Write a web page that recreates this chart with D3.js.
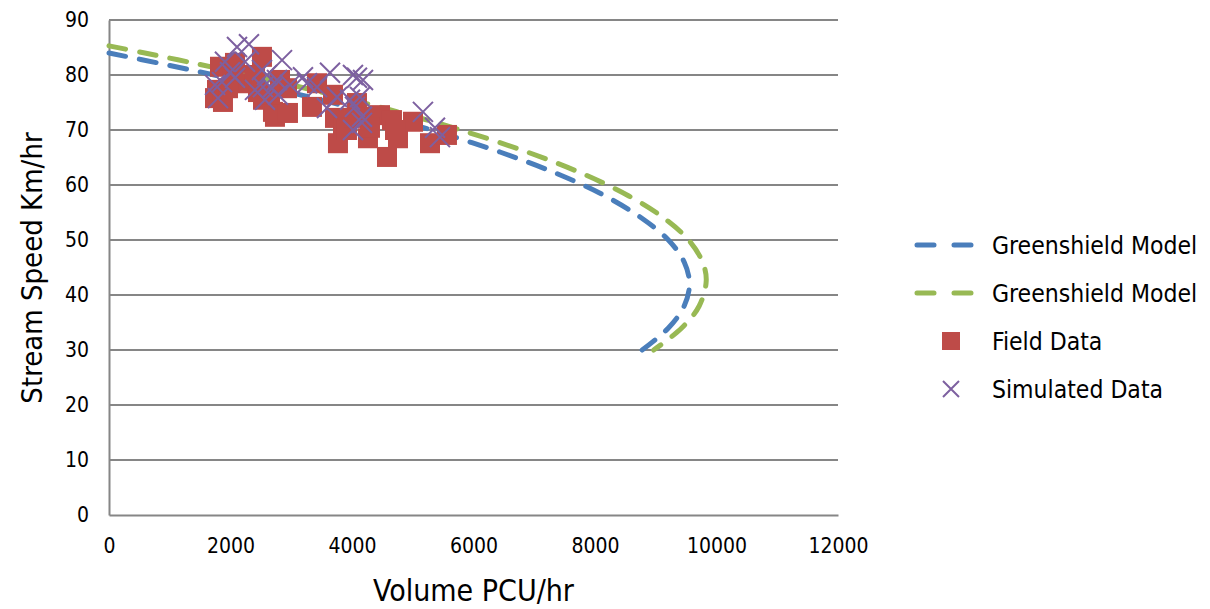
<!DOCTYPE html>
<html>
<head>
<meta charset="utf-8">
<script src="https://cdn.jsdelivr.net/npm/d3@7"></script>
<style>
  body { margin: 0; background: #fff; }
  svg text { font-family: "DejaVu Sans Condensed", "Liberation Sans", sans-serif; fill: #000; }
</style>
</head>
<body>
<div class="chart"></div>
<script>
// speed (km/hr) and volume (PCU/hr)
const blueSpeed  = [84, 82, 80, 78, 76, 74, 72, 70, 66, 62, 58, 54, 50, 46, 42, 38, 34, 30];
const blueVolume = [0, 888, 1733, 2535, 3294, 4008, 4680, 5308, 6435, 7389, 8168, 8766, 9208, 9468, 9555, 9468, 9208, 8776];
const greenSpeed  = [85.3, 84, 82, 80, 78, 76, 74, 72, 70, 66, 62, 58, 54, 50, 46, 42.6, 38, 34, 30];
const greenVolume = [0, 590, 1463, 2291, 3078, 3820, 4519, 5175, 5788, 6884, 7808, 8557, 9134, 9540, 9770, 9831, 9715, 9427, 8966];

// field data
const fieldVolume = [1745, 1778, 1827, 1876, 2041, 2074, 2271, 2453, 2518, 2535, 2699, 2732, 2815, 2930, 2946, 3341, 3424, 3687, 3720, 3769,
  3852, 3917, 4082, 4181, 4263, 4461, 4576, 4658, 4757, 5004, 5284, 5563, 4049, 2650, 1959, 2403, 4708, 4296];
const fieldSpeed = [75.8, 77.3, 81.5, 75.1, 79.1, 82.2, 78.5, 76.9, 83.3, 75.5, 73.3, 72.4, 79.1, 77.6, 73.1, 74.2, 78.5, 76.4, 72.2, 67.6,
  70.5, 70.0, 74.9, 72.4, 68.5, 72.7, 65.1, 71.8, 68.5, 71.5, 67.6, 69.1, 72.2, 76.4, 77.6, 80.0, 70.0, 70.4];

// simulated data
const simVolume = [2107, 2304, 1909, 1992, 2074, 1794, 1745, 2518, 2601, 2848, 2765, 2683, 2568, 2782, 2535, 3193, 3259, 3424, 3638, 3753,
  3588, 4016, 4181, 4082, 4049, 4131, 3967, 4016, 4164, 4164, 5168, 5366, 5448, 2239, 2403, 2979, 1860];
const simSpeed = [85.1, 85.6, 82.4, 80.5, 79.5, 75.8, 78.2, 80.9, 80.0, 82.7, 79.1, 77.6, 75.5, 76.4, 77.8, 79.6, 78.5, 77.8, 80.4, 76.0,
  74.0, 80.0, 79.1, 79.5, 74.2, 76.0, 75.5, 70.0, 71.3, 72.4, 73.3, 70.4, 68.7, 82.4, 77.3, 78.2, 78.7];

const xTicks = [0, 2000, 4000, 6000, 8000, 10000, 12000];
const yTicks = [0, 10, 20, 30, 40, 50, 60, 70, 80, 90];
const legendNames = ['Greenshield Model', 'Greenshield Model', 'Field Data', 'Simulated Data'];

const width = 1210, height = 609;
const blue = '#4a7ebb', green = '#98b954', red = '#be4b48', purple = '#7d60a0', grid = '#868686';

const svg = d3.select('.chart').append('svg')
    .attr('width', width).attr('height', height);

const x = d3.scaleLinear().domain([0, 12000]).range([109, 838]);
const y = d3.scaleLinear().domain([0, 90]).range([515, 20]);

// gridlines
svg.append('g')
    .selectAll('line')
    .data(yTicks.slice(1))
    .join('line')
        .attr('x1', x(0)).attr('x2', x(12000))
        .attr('y1', d => y(d)).attr('y2', d => y(d))
        .style('stroke', grid).style('stroke-width', 2);

// axes
const yAxis = svg.append('g')
    .attr('transform', 'translate(' + x(0) + ',0)')
    .call(d3.axisLeft(y).tickValues(yTicks).tickSize(0).tickPadding(20));
const xAxis = svg.append('g')
    .attr('transform', 'translate(0,' + y(0) + ')')
    .call(d3.axisBottom(x).tickValues(xTicks).tickSize(0).tickPadding(23).tickFormat(d3.format('d')));
[xAxis, yAxis].forEach(a => {
    a.select('.domain').style('stroke', grid).style('stroke-width', 2);
    a.selectAll('text').style('font-size', '21px');
});

// model curves
const modelLine = d3.line().x(d => x(d[0])).y(d => y(d[1])).curve(d3.curveCatmullRom);
const models = [
    { color: blue, pts: blueVolume.map((v, i) => [v, blueSpeed[i]]) },
    { color: green, pts: greenVolume.map((v, i) => [v, greenSpeed[i]]) }
];
svg.append('g')
    .selectAll('path')
    .data(models)
    .join('path')
        .attr('d', d => modelLine(d.pts))
        .attr('fill', 'none')
        .style('stroke', d => d.color)
        .style('stroke-width', 5)
        .style('stroke-linecap', 'round')
        .style('stroke-dasharray', '17,14');

// field data squares
const sq = 20;
svg.append('g')
    .selectAll('rect')
    .data(fieldVolume.map((v, i) => [v, fieldSpeed[i]]))
    .join('rect')
        .attr('x', d => x(d[0]) - sq / 2)
        .attr('y', d => y(d[1]) - sq / 2)
        .attr('width', sq).attr('height', sq)
        .attr('fill', red);

// simulated crosses
const cr = 10;
svg.append('g')
    .selectAll('path')
    .data(simVolume.map((v, i) => [v, simSpeed[i]]))
    .join('path')
        .attr('d', d => {
            const cx = x(d[0]), cy = y(d[1]);
            return 'M' + (cx - cr) + ',' + (cy - cr) + 'L' + (cx + cr) + ',' + (cy + cr) +
                   'M' + (cx - cr) + ',' + (cy + cr) + 'L' + (cx + cr) + ',' + (cy - cr);
        })
        .style('stroke', purple)
        .style('stroke-width', 2)
        .attr('fill', 'none');

// axis titles
svg.append('text')
    .attr('x', (x(0) + x(12000)) / 2).attr('y', 601)
    .attr('text-anchor', 'middle')
    .style('font-size', '30px')
    .text('Volume PCU/hr');

svg.append('text')
    .attr('transform', 'translate(42,268) rotate(-90)')
    .attr('text-anchor', 'middle')
    .style('font-size', '29px')
    .text('Stream  Speed Km/hr');

// legend
const legend = svg.append('g').attr('transform', 'translate(915,245)');
const rows = legend.selectAll('g')
    .data(legendNames)
    .join('g')
        .attr('transform', (d, i) => 'translate(0,' + (i * 48) + ')');

rows.filter((d, i) => i < 2).append('line')
    .attr('x1', 2).attr('x2', 60).attr('y1', 0).attr('y2', 0)
    .style('stroke', (d, i) => i == 0 ? blue : green)
    .style('stroke-width', 5)
    .style('stroke-linecap', 'round')
    .style('stroke-dasharray', '17,20');

rows.filter((d, i) => i == 2).append('rect')
    .attr('x', 27).attr('y', -9).attr('width', 18).attr('height', 18)
    .attr('fill', red);

rows.filter((d, i) => i == 3).append('path')
    .attr('d', 'M28,-8L44,8M28,8L44,-8')
    .style('stroke', purple).style('stroke-width', 2);

rows.append('text')
    .attr('x', 77).attr('y', 0)
    .attr('dy', '0.35em')
    .style('font-size', '24.5px')
    .text(d => d);
</script>
</body>
</html>
